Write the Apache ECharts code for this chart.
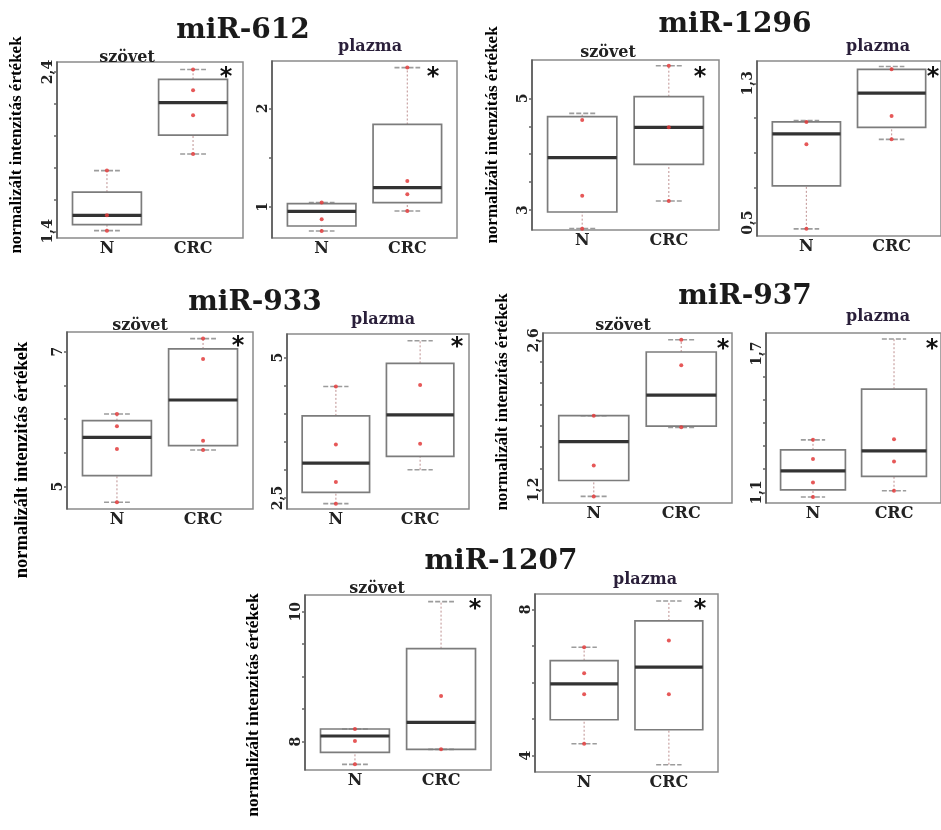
<!DOCTYPE html>
<html><head><meta charset="utf-8">
<script src="https://cdn.jsdelivr.net/npm/echarts@6/dist/echarts.min.js"></script>
<style>html,body{margin:0;padding:0;background:#fff}#c{width:941px;height:830px}</style>
</head><body><div id="c"></div>
<script>
// ---------------- data ----------------
const categories = ['N', 'CRC'];
const miRNAs = ['miR-612', 'miR-1296', 'miR-933', 'miR-937', 'miR-1207'];
const sampleTypes = ['szövet', 'plazma'];
const yTitle = 'normalizált intenzitás értékek';

// box statistics per group: [lower whisker, Q1, median, Q3, upper whisker]
const mir612_szovet_box = [[1.404, 1.442, 1.500, 1.646, 1.781], [1.885, 2.004, 2.208, 2.354, 2.415]];
const mir612_plazma_box = [[0.756, 0.807, 0.956, 1.034, 1.044], [0.959, 1.044, 1.197, 1.837, 2.414]];
const mir1296_szovet_box = [[2.666, 2.964, 3.937, 4.672, 4.731], [3.161, 3.818, 4.481, 5.030, 5.585]];
const mir1296_plazma_box = [[0.464, 0.711, 1.009, 1.078, 1.086], [0.978, 1.047, 1.243, 1.380, 1.396]];
const mir933_szovet_box = [[4.768, 5.163, 5.731, 5.978, 6.077], [5.543, 5.607, 6.284, 7.040, 7.193]];
const mir933_plazma_box = [[2.399, 2.601, 3.122, 3.963, 4.485], [3.004, 3.240, 3.981, 4.899, 5.302]];
const mir937_szovet_box = [[1.138, 1.287, 1.651, 1.894, 1.894], [1.785, 1.797, 2.087, 2.491, 2.606]];
const mir937_plazma_box = [[1.080, 1.111, 1.193, 1.284, 1.327], [1.107, 1.169, 1.279, 1.546, 1.763]];
const mir1207_szovet_box = [[7.651, 7.836, 8.087, 8.195, 8.195], [7.882, 7.882, 8.297, 9.431, 10.154]];
const mir1207_plazma_box = [[4.327, 4.982, 5.964, 6.600, 6.964], [3.755, 4.709, 6.418, 7.682, 8.227]];

// red points per group [N values, CRC values]
const mir612_szovet_pts = [[1.781, 1.500, 1.404], [2.415, 2.285, 2.129, 1.885]];
const mir612_plazma_pts = [[1.044, 0.875, 0.756], [2.414, 1.264, 1.129, 0.959]];
const mir1296_szovet_pts = [[4.612, 3.257, 2.666], [5.585, 4.481, 3.161]];
const mir1296_plazma_pts = [[1.078, 0.950, 0.464], [1.380, 1.112, 0.978]];
const mir933_szovet_pts = [[6.077, 5.894, 5.558, 4.768], [7.193, 6.891, 5.681, 5.543]];
const mir933_plazma_pts = [[4.485, 3.454, 2.784, 2.399], [4.514, 3.466]];
const mir937_szovet_pts = [[1.894, 1.427, 1.138], [2.606, 2.367, 1.785]];
const mir937_plazma_pts = [[1.327, 1.244, 1.143, 1.080], [1.330, 1.233, 1.107]];
const mir1207_szovet_pts = [[8.195, 8.010, 7.651], [8.703, 7.882]];
const mir1207_plazma_pts = [[6.964, 6.255, 5.682, 4.327], [7.145, 5.682]];

// y-axis ticks and labels
const mir612_szovet_ticks = [1.4, 1.6, 1.8, 2.0, 2.2, 2.4], mir612_szovet_labels = [1.4, 2.4];
const mir612_plazma_ticks = [1, 1.5, 2], mir612_plazma_labels = [1, 2];
const mir1296_szovet_ticks = [3, 3.5, 4, 4.5, 5], mir1296_szovet_labels = [3, 5];
const mir1296_plazma_ticks = [0.5, 0.7, 0.9, 1.1, 1.3], mir1296_plazma_labels = [0.5, 1.3];
const mir933_szovet_ticks = [5, 5.5, 6, 6.5, 7], mir933_szovet_labels = [5, 7];
const mir933_plazma_ticks = [2.5, 3, 3.5, 4, 4.5, 5], mir933_plazma_labels = [2.5, 5];
const mir937_szovet_ticks = [1.2, 1.4, 1.6, 1.8, 2.0, 2.2, 2.4, 2.6], mir937_szovet_labels = [1.2, 2.6];
const mir937_plazma_ticks = [1.1, 1.2, 1.3, 1.4, 1.5, 1.6, 1.7], mir937_plazma_labels = [1.1, 1.7];
const mir1207_szovet_ticks = [8, 8.5, 9, 9.5, 10], mir1207_szovet_labels = [8, 10];
const mir1207_plazma_ticks = [4, 5, 6, 7, 8], mir1207_plazma_labels = [4, 8];

// ---------------- layout ----------------
const panels = [
  {box: mir612_szovet_box, pts: mir612_szovet_pts, ticks: mir612_szovet_ticks, labels: mir612_szovet_labels, yr: [1.358, 2.4625], g: [57, 62, 186, 176], sub: [0, 127, 58], star: [226, 78]},
  {box: mir612_plazma_box, pts: mir612_plazma_pts, ticks: mir612_plazma_ticks, labels: mir612_plazma_labels, yr: [0.685, 2.481], g: [272, 61, 185, 177], sub: [1, 370, 47], star: [433, 78]},
  {box: mir1296_szovet_box, pts: mir1296_szovet_pts, ticks: mir1296_szovet_ticks, labels: mir1296_szovet_labels, yr: [2.642, 5.687], g: [532, 60, 187, 170], sub: [0, 608, 53], star: [700, 78]},
  {box: mir1296_plazma_box, pts: mir1296_plazma_pts, ticks: mir1296_plazma_ticks, labels: mir1296_plazma_labels, yr: [0.423, 1.428], g: [757, 61, 184, 175], sub: [1, 878, 47], star: [933, 78]},
  {box: mir933_szovet_box, pts: mir933_szovet_pts, ticks: mir933_szovet_ticks, labels: mir933_szovet_labels, yr: [4.669, 7.291], g: [67, 332, 186, 177], sub: [0, 140, 326], star: [238, 347]},
  {box: mir933_plazma_box, pts: mir933_plazma_pts, ticks: mir933_plazma_ticks, labels: mir933_plazma_labels, yr: [2.304, 5.421], g: [287, 334, 182, 175], sub: [1, 383, 320], star: [457, 348]},
  {box: mir937_szovet_box, pts: mir937_szovet_pts, ticks: mir937_szovet_ticks, labels: mir937_szovet_labels, yr: [1.076, 2.669], g: [543, 333, 189, 170], sub: [0, 623, 326], star: [723, 350]},
  {box: mir937_plazma_box, pts: mir937_plazma_pts, ticks: mir937_plazma_ticks, labels: mir937_plazma_labels, yr: [1.054, 1.789], g: [766, 333, 182, 170], sub: [1, 878, 317], star: [932, 350]},
  {box: mir1207_szovet_box, pts: mir1207_szovet_pts, ticks: mir1207_szovet_ticks, labels: mir1207_szovet_labels, yr: [7.564, 10.256], g: [305, 595, 186, 175], sub: [0, 377, 589], star: [475, 610]},
  {box: mir1207_plazma_box, pts: mir1207_plazma_pts, ticks: mir1207_plazma_ticks, labels: mir1207_plazma_labels, yr: [3.555, 8.418], g: [535, 594, 183, 178], sub: [1, 645, 580], star: [700, 610]}
];
const titlePos = [[243, 31], [735, 25], [255, 303], [745, 297], [501, 562]];
const yTitlePos = [[17, 145, 17], [493, 135, 17], [22, 460, 18.5], [503, 402, 17], [253, 705, 17.5]];

const SERIF = '"DejaVu Serif", "Liberation Serif", serif';
const fmt = v => String(+(+v).toFixed(3)).replace('.', ',');

function renderBox(params, api) {
  const x = api.value(0);
  const pLo = api.coord([x, api.value(1)]);
  const pQ1 = api.coord([x, api.value(2)]);
  const pMd = api.coord([x, api.value(3)]);
  const pQ3 = api.coord([x, api.value(4)]);
  const pHi = api.coord([x, api.value(5)]);
  const half = api.size([0.4, 0])[0];
  const cap = api.size([0.15, 0])[0];
  const cx = pMd[0];
  const wStyle = {stroke: '#c9a3a3', lineWidth: 1.2, lineDash: [2, 2]};
  const cStyle = {stroke: '#9c9c9c', lineWidth: 1.6, lineDash: [5, 2]};
  return {type: 'group', children: [
    {type: 'line', shape: {x1: cx, y1: pLo[1], x2: cx, y2: pQ1[1]}, style: wStyle},
    {type: 'line', shape: {x1: cx, y1: pQ3[1], x2: cx, y2: pHi[1]}, style: wStyle},
    {type: 'line', shape: {x1: cx - cap, y1: pLo[1], x2: cx + cap, y2: pLo[1]}, style: cStyle},
    {type: 'line', shape: {x1: cx - cap, y1: pHi[1], x2: cx + cap, y2: pHi[1]}, style: cStyle},
    {type: 'rect', shape: {x: cx - half, y: pQ3[1], width: 2 * half, height: pQ1[1] - pQ3[1]},
      style: {fill: 'rgba(255,255,255,0)', stroke: '#7c7c7c', lineWidth: 1.7}},
    {type: 'line', shape: {x1: cx - half, y1: pMd[1], x2: cx + half, y2: pMd[1]}, style: {stroke: '#333', lineWidth: 3.2}}
  ]};
}

const grid = [], xAxis = [], yAxis = [], series = [], graphic = [];
panels.forEach((p, i) => {
  grid.push({left: p.g[0], top: p.g[1], width: p.g[2], height: p.g[3], show: true,
    borderColor: '#8a8a8a', borderWidth: 1.5, backgroundColor: 'transparent'});
  xAxis.push({type: 'value', gridIndex: i, min: 0.42, max: 2.58,
    axisLine: {show: false}, axisTick: {show: false}, splitLine: {show: false},
    axisLabel: {customValues: [1, 2], formatter: v => categories[Math.round(v) - 1] || '',
      fontFamily: SERIF, fontWeight: 'bold', fontSize: 16, color: '#222', margin: 3}});
  yAxis.push({type: 'value', gridIndex: i, min: p.yr[0], max: p.yr[1],
    splitLine: {show: false},
    axisLine: {show: true, lineStyle: {color: '#555', width: 1.5}},
    axisTick: {show: true, customValues: p.ticks, length: 3, lineStyle: {color: '#666', width: 1.5}},
    axisLabel: {customValues: p.labels, formatter: fmt, rotate: 90, margin: 2,
      fontFamily: SERIF, fontWeight: 'bold', fontSize: 14, color: '#222'}});
  series.push({type: 'custom', xAxisIndex: i, yAxisIndex: i, renderItem: renderBox,
    encode: {x: 0, y: [1, 2, 3, 4, 5]},
    data: p.box.map((b, k) => [k + 1].concat(b)), z: 2});
  const sp = [];
  p.pts.forEach((arr, k) => arr.forEach(v => sp.push([k + 1, v])));
  series.push({type: 'scatter', xAxisIndex: i, yAxisIndex: i, data: sp, symbol: 'circle', symbolSize: 4,
    itemStyle: {color: '#e23b3b', opacity: 0.85}, z: 3, silent: true});
  graphic.push({type: 'text', x: p.sub[1], y: p.sub[2], style: {text: sampleTypes[p.sub[0]],
    font: 'bold 16px ' + SERIF, fill: p.sub[0] ? '#2a1f3a' : '#222', align: 'center', verticalAlign: 'middle'}});
  graphic.push({type: 'text', x: p.star[0], y: p.star[1], style: {text: '*',
    font: 'bold 24px "DejaVu Sans", sans-serif', fill: '#111', align: 'center', verticalAlign: 'middle'}});
});
miRNAs.forEach((t, i) => {
  graphic.push({type: 'text', x: titlePos[i][0], y: titlePos[i][1], style: {text: t,
    font: 'bold 28px ' + SERIF, fill: '#1a1a1a', align: 'center', verticalAlign: 'middle'}});
});
yTitlePos.forEach(pos => {
  graphic.push({type: 'text', x: pos[0], y: pos[1], rotation: Math.PI / 2, style: {text: yTitle,
    font: 'bold ' + pos[2] + 'px "Liberation Serif", serif', fill: '#000', align: 'center', verticalAlign: 'middle'}});
});

const chart = echarts.init(document.getElementById('c'), null, {renderer: 'canvas'});
chart.setOption({backgroundColor: '#fff', animation: false, grid, xAxis, yAxis, series, graphic});
</script>
</body></html>
